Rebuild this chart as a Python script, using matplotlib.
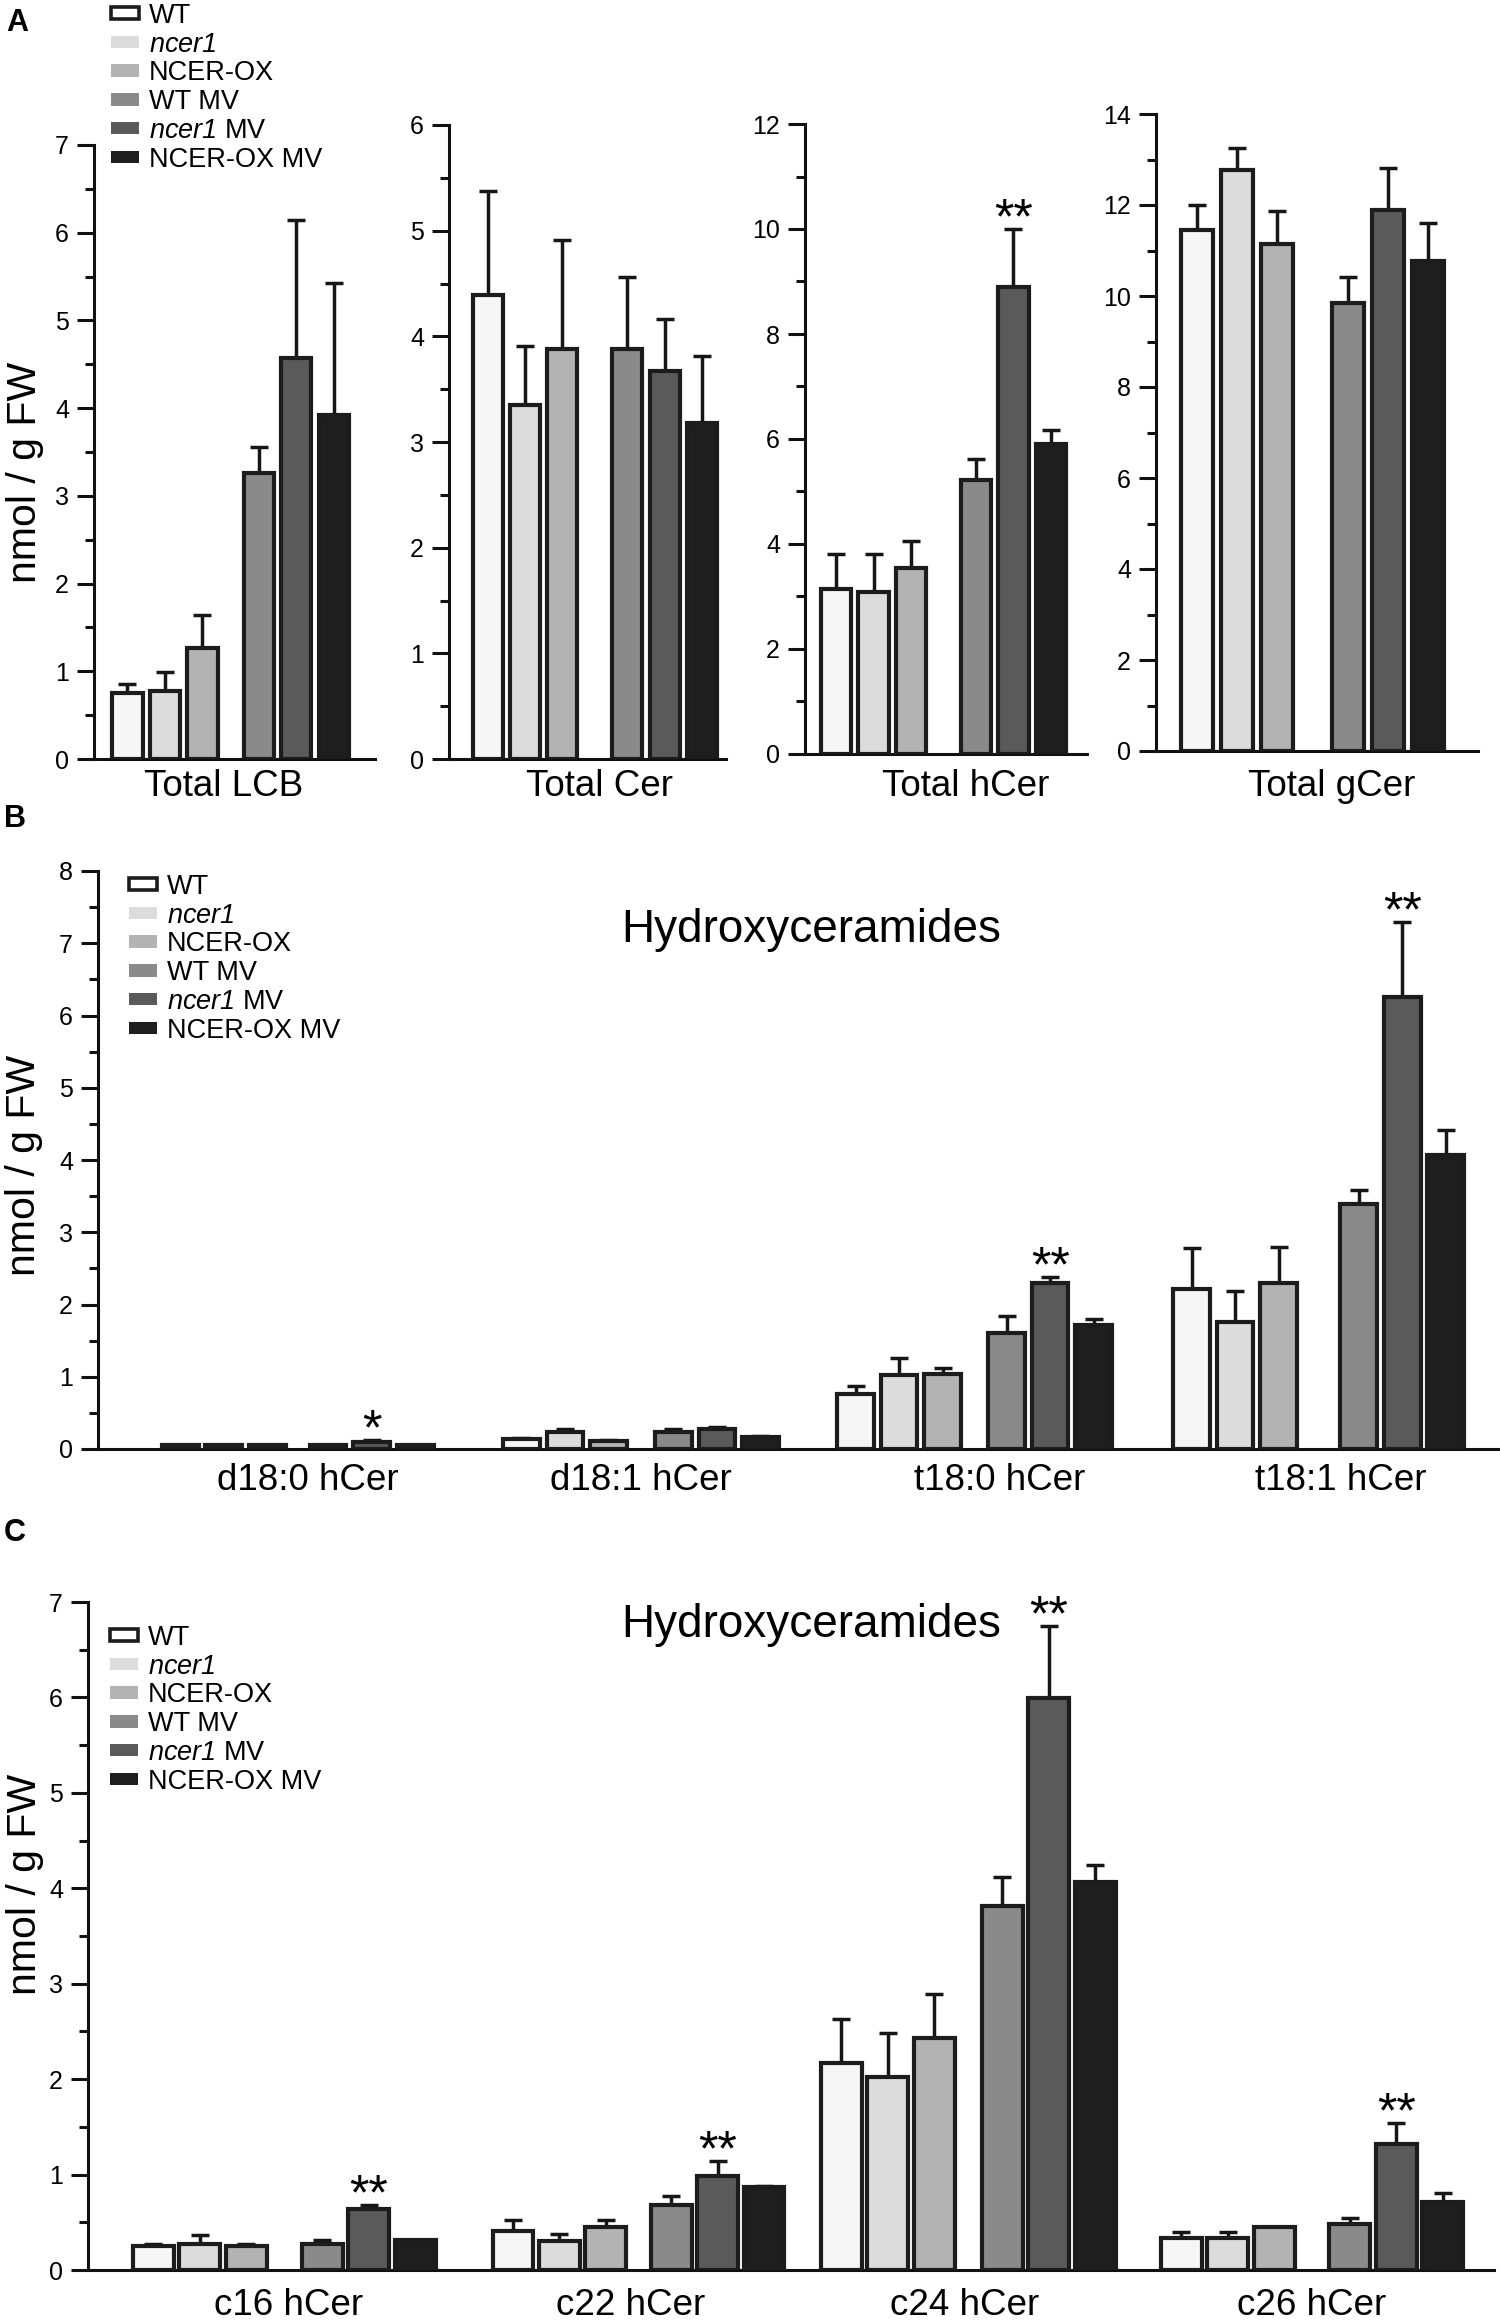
import numpy as np
import matplotlib
matplotlib.use("Agg")
import matplotlib.pyplot as plt
from matplotlib.patches import Patch
from matplotlib.ticker import MultipleLocator

plt.rcParams['font.family'] = ['Liberation Sans', 'DejaVu Sans']
plt.rcParams['mathtext.fontset'] = 'custom'
plt.rcParams['mathtext.rm'] = 'Liberation Sans'
plt.rcParams['mathtext.it'] = 'Liberation Sans:italic'
plt.rcParams['mathtext.bf'] = 'Liberation Sans:italic'   # used for italic gene names incl. digits

W, H = 1500, 2323
DPI = 100

# ---------------- data ----------------
series = ["WT", "ncer1", "NCER-OX", "WT MV", "ncer1 MV", "NCER-OX MV"]
legend_labels = ["WT", r"$\mathbf{ncer1}$", "NCER-OX", "WT MV",
                 r"$\mathbf{ncer1}$ MV", "NCER-OX MV"]
colors = ["#f6f6f6", "#dcdcdc", "#b3b3b3", "#8a8a8a", "#5a5a5a", "#1e1e1e"]

# Panel A: totals
a_groups = ["Total LCB", "Total Cer", "Total hCer", "Total gCer"]
a_lcb_mean = [0.75, 0.78, 1.26, 3.26, 4.57, 3.92]
a_lcb_err = [0.10, 0.21, 0.38, 0.30, 1.58, 1.51]
a_cer_mean = [4.39, 3.35, 3.88, 3.88, 3.67, 3.18]
a_cer_err = [0.99, 0.56, 1.03, 0.68, 0.49, 0.63]
a_hcer_mean = [3.14, 3.09, 3.54, 5.21, 8.90, 5.90]
a_hcer_err = [0.67, 0.72, 0.52, 0.41, 1.10, 0.28]
a_gcer_mean = [11.45, 12.76, 11.15, 9.85, 11.89, 10.78]
a_gcer_err = [0.55, 0.49, 0.71, 0.56, 0.93, 0.82]
a_sig = ["", "", "**", ""]          # on ncer1 MV

# Panel B: hydroxyceramides by LCB
b_groups = ["d18:0 hCer", "d18:1 hCer", "t18:0 hCer", "t18:1 hCer"]
b_d180_mean = [0.05, 0.05, 0.05, 0.05, 0.10, 0.05]
b_d180_err = [0.00, 0.00, 0.00, 0.01, 0.02, 0.00]
b_d181_mean = [0.14, 0.24, 0.11, 0.24, 0.28, 0.16]
b_d181_err = [0.01, 0.03, 0.02, 0.03, 0.02, 0.02]
b_t180_mean = [0.76, 1.03, 1.04, 1.60, 2.30, 1.72]
b_t180_err = [0.11, 0.23, 0.08, 0.24, 0.08, 0.08]
b_t181_mean = [2.22, 1.76, 2.30, 3.39, 6.26, 4.07]
b_t181_err = [0.56, 0.42, 0.49, 0.19, 1.03, 0.35]
b_sig = ["*", "", "**", "**"]

# Panel C: hydroxyceramides by fatty acid
c_groups = ["c16 hCer", "c22 hCer", "c24 hCer", "c26 hCer"]
c_c16_mean = [0.25, 0.27, 0.25, 0.27, 0.64, 0.31]
c_c16_err = [0.02, 0.10, 0.02, 0.04, 0.04, 0.00]
c_c22_mean = [0.41, 0.30, 0.45, 0.68, 0.99, 0.87]
c_c22_err = [0.11, 0.08, 0.07, 0.10, 0.15, 0.01]
c_c24_mean = [2.17, 2.02, 2.43, 3.81, 5.99, 4.07]
c_c24_err = [0.46, 0.46, 0.46, 0.31, 0.76, 0.17]
c_c26_mean = [0.34, 0.34, 0.45, 0.48, 1.32, 0.71]
c_c26_err = [0.06, 0.06, 0.00, 0.07, 0.22, 0.10]
c_sig = ["**", "**", "**", "**"]

ylabel = "nmol / g FW"
title_hcer = "Hydroxyceramides"

# ---------------- style ----------------
EDGE = "#1c1c1c"
BAR_LW = 3.0
SPINE_LW = 2.2
TICK_FS = 18
XLAB_FS = 26.5
YLAB_FS = 29.5
LEG_FS = 19.5
STAR_FS = 36

fig = plt.figure(figsize=(W / DPI, H / DPI), dpi=DPI)


def add_axes_px(x0, x1, ytop, ybot):
    return fig.add_axes([x0 / W, 1 - ybot / H, (x1 - x0) / W, (ybot - ytop) / H])


def style_axes(ax, ymax, major, minor, xlim):
    ax.set_xlim(*xlim)
    ax.set_ylim(0, ymax)
    for s in ("top", "right"):
        ax.spines[s].set_visible(False)
    for s in ("left", "bottom"):
        ax.spines[s].set_linewidth(SPINE_LW)
        ax.spines[s].set_color("#111111")
    ax.yaxis.set_major_locator(MultipleLocator(major))
    ax.yaxis.set_minor_locator(MultipleLocator(minor))
    ax.tick_params(axis="y", which="major", direction="out", length=12,
                   width=SPINE_LW, labelsize=TICK_FS, pad=6, color="#111111")
    ax.tick_params(axis="y", which="minor", direction="out", length=6.5,
                   width=SPINE_LW, color="#111111")
    ax.yaxis.set_major_formatter(matplotlib.ticker.FormatStrFormatter("%d"))


def draw_group(ax, start, gap, means, errs, width, sig):
    pos = start + np.array([0, 1, 2, 2 + gap, 3 + gap, 4 + gap])
    ax.errorbar(pos, means, yerr=[np.zeros(len(errs)), errs], fmt="none",
                ecolor="#161616", elinewidth=2.5, capsize=6.2, capthick=2.5,
                zorder=2)
    ax.bar(pos, means, width=width, color=colors, edgecolor=EDGE,
           linewidth=BAR_LW, zorder=3)
    if sig:
        i = 4
        ax.annotate(sig, xy=(pos[i], means[i] + errs[i]), xytext=(0, -3.0),
                    textcoords="offset points", ha="center", va="baseline",
                    fontsize=STAR_FS, zorder=5)
    return pos.mean()


def set_group_labels(ax, positions, labels, axis_y_px, center_y_px):
    em_px = XLAB_FS * DPI / 72.0
    pad_px = center_y_px - axis_y_px - 0.47 * em_px
    ax.set_xticks(positions)
    ax.set_xticklabels(labels, fontsize=XLAB_FS)
    ax.tick_params(axis="x", length=0, pad=pad_px * 72.0 / DPI)


def add_legend(x_px, y_px):
    handles = [Patch(facecolor="white", edgecolor=EDGE, linewidth=2.6)]
    handles += [Patch(facecolor=c, edgecolor="none") for c in colors[1:]]
    fig.legend(handles, legend_labels, loc="upper left",
               bbox_to_anchor=(x_px / W, 1 - y_px / H),
               bbox_transform=fig.transFigure, frameon=False,
               fontsize=LEG_FS, handlelength=1.03, handleheight=0.33,
               handletextpad=0.37, labelspacing=0.1, borderpad=0,
               borderaxespad=0)


# ---------------- Panel A ----------------
a_means = [a_lcb_mean, a_cer_mean, a_hcer_mean, a_gcer_mean]
a_errs = [a_lcb_err, a_cer_err, a_hcer_err, a_gcer_err]
a_layout = [  # x0, x1, ytop, ybot, ymax, major, minor, xlim, gap, label shift
    (94, 375, 145, 759, 7, 1, 0.5, (-0.89, 6.60), 1.50, -0.18),
    (449, 726, 125, 759, 6, 1, 0.5, (-1.05, 6.43), 1.77, 0.14),
    (805, 1087, 124, 754, 12, 2, 1, (-0.83, 6.69), 1.73, 0.60),
    (1156, 1478, 114, 751, 14, 2, 1, (-1.03, 7.03), 1.78, 0.49),
]
for k, (x0, x1, yt, yb, ymax, mj, mn, xl, gap, shift) in enumerate(a_layout):
    ax = add_axes_px(x0, x1, yt, yb)
    style_axes(ax, ymax, mj, mn, xl)
    c = draw_group(ax, 0, gap, a_means[k], a_errs[k], 0.81, a_sig[k])
    set_group_labels(ax, [c + shift], [a_groups[k]], yb, 786)

# ---------------- Panel B ----------------
axB = add_axes_px(98, 1498, 871, 1449)
style_axes(axB, 8, 1, 0.5, (-1.89, 30.28))
b_means = [b_d180_mean, b_d181_mean, b_t180_mean, b_t181_mean]
b_errs = [b_d180_err, b_d181_err, b_t180_err, b_t181_err]
b_starts = [0, 7.84, 15.52, 23.24]
b_gaps = [1.40, 1.49, 1.47, 1.84]
b_shift = [0.23, 0.0, 0.58, 0.51]
b_pos = []
for g in range(4):
    c = draw_group(axB, b_starts[g], b_gaps[g], b_means[g], b_errs[g], 0.84, b_sig[g])
    b_pos.append(c + b_shift[g])
set_group_labels(axB, b_pos, b_groups, 1449, 1480)

# ---------------- Panel C ----------------
axC = add_axes_px(88, 1494, 1602, 2270)
style_axes(axC, 7, 1, 0.5, (-1.40, 28.84))
c_means = [c_c16_mean, c_c22_mean, c_c24_mean, c_c26_mean]
c_errs = [c_c16_err, c_c22_err, c_c24_err, c_c26_err]
c_starts = [0, 7.74, 14.80, 22.11]
c_gaps = [1.64, 1.40, 1.46, 1.63]
c_shift = [0.10, -0.16, -0.07, 0.0]
c_pos = []
for g in range(4):
    c = draw_group(axC, c_starts[g], c_gaps[g], c_means[g], c_errs[g], 0.88, c_sig[g])
    c_pos.append(c + c_shift[g])
set_group_labels(axC, c_pos, c_groups, 2270, 2305)

# ---------------- text ----------------
for (x, y) in [(25, 472), (24, 1165), (25, 1884)]:
    fig.text(x / W, 1 - y / H, ylabel, rotation=90, ha="center", va="center",
             fontsize=YLAB_FS)

for (x, y) in [(811, 930), (811, 1625)]:
    fig.text(x / W, 1 - y / H, title_hcer, ha="center", va="center", fontsize=33)

for lab, (x, y) in zip(["A", "B", "C"], [(17, 23), (15, 819), (15, 1533)]):
    fig.text(x / W, 1 - y / H, lab, ha="center", va="center", fontsize=22,
             fontweight="bold")

add_legend(111, 3)
add_legend(129, 874)
add_legend(110, 1625)

fig.savefig("out.png", dpi=DPI)
